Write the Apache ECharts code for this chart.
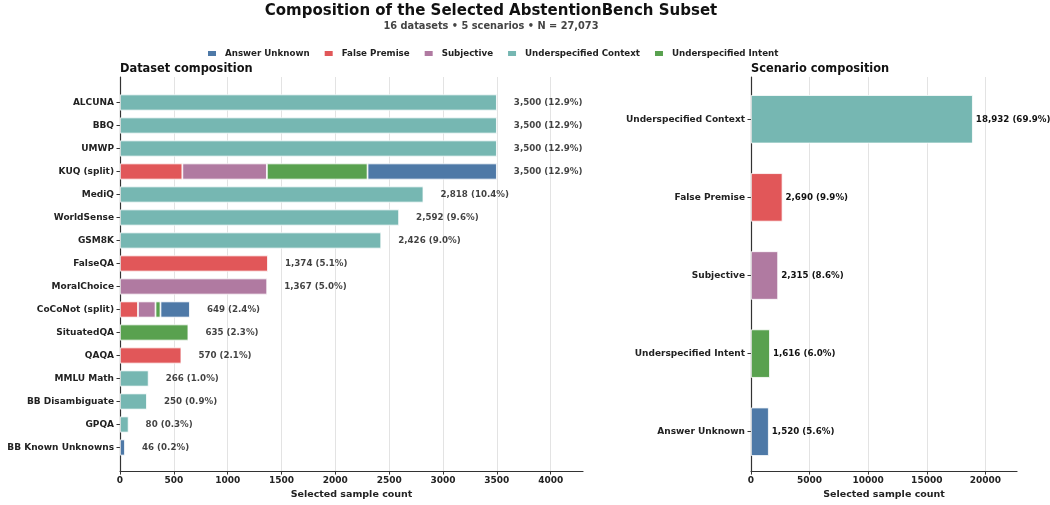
<!DOCTYPE html>
<html>
<head>
<meta charset="utf-8">
<script src="https://cdn.jsdelivr.net/npm/echarts@6/dist/echarts.min.js"></script>
<style>html,body{margin:0;padding:0;background:#fff}#c{width:1050px;height:505px}</style>
</head>
<body>
<div id="c"></div>
<script>
const datasets = ['ALCUNA','BBQ','UMWP','KUQ (split)','MediQ','WorldSense','GSM8K','FalseQA','MoralChoice','CoCoNot (split)','SituatedQA','QAQA','MMLU Math','BB Disambiguate','GPQA','BB Known Unknowns'];
const answerUnknown      = [null,null,null,1201,null,null,null,null,null,273,null,null,null,null,null,46];
const falsePremise       = [null,null,null,579,null,null,null,1374,null,167,null,570,null,null,null,null];
const subjective         = [null,null,null,785,null,null,null,null,1367,163,null,null,null,null,null,null];
const underspecIntent    = [null,null,null,935,null,null,null,null,null,46,635,null,null,null,null,null];
const underspecContext   = [3500,3500,3500,null,2818,2592,2426,null,null,null,null,null,266,250,80,null];
const scenarios = ['Underspecified Context','False Premise','Subjective','Underspecified Intent','Answer Unknown'];
const scenarioCounts = [18932,2690,2315,1616,1520];
const leftTicks = [0,500,1000,1500,2000,2500,3000,3500,4000];
const rightTicks = [0,5000,10000,15000,20000];
const N_TOTAL = 27073;

const COLORS = {
  'Answer Unknown':'#4e79a7','False Premise':'#e15759','Subjective':'#b07aa1',
  'Underspecified Context':'#76b7b2','Underspecified Intent':'#59a14f'
};
const FONT = 'DejaVu Sans';
const fmt = v => v.toLocaleString('en-US') + ' (' + (v / N_TOTAL * 100).toFixed(1) + '%)';
const totals = datasets.map((_, i) => [answerUnknown, falsePremise, subjective, underspecIntent, underspecContext]
  .reduce((s, a) => s + (a[i] || 0), 0));

const L = {left:120, right:467}, R = {left:751, right:33};
const LMAX = 4300, RMAX = 22700;

function frameX(gi, max, ticks) {
  return {
    gridIndex: gi, type:'value', min:0, max:max, interval: ticks[1]-ticks[0],
    axisLine:{show:true, lineStyle:{color:'#333', width:1.2}},
    axisTick:{show:true, length:3.5, lineStyle:{color:'#333', width:1}, customValues: ticks},
    axisLabel:{show:true, color:'#222', fontFamily:FONT, fontWeight:'bold', fontSize:9, margin:5,
      customValues: ticks, formatter: v => String(v)},
    splitLine:{show:true, lineStyle:{color:'#e3e3e3', width:1}},
    name:'Selected sample count', nameLocation:'middle', nameGap:17,
    nameTextStyle:{color:'#222', fontFamily:FONT, fontWeight:'bold', fontSize:9.5}
  };
}
function hiddenX(gi, max) {
  return {gridIndex:gi, type:'value', min:0, max:max, show:false, splitLine:{show:false}};
}
function frameY(gi) {
  return {gridIndex:gi, type:'value', min:0, max:1, axisLine:{show:true, lineStyle:{color:'#333', width:1.2}},
    axisTick:{show:false}, axisLabel:{show:false}, splitLine:{show:false}};
}
function catY(gi, cats) {
  return {gridIndex:gi, type:'category', data:cats, inverse:true,
    axisLine:{show:false},
    axisTick:{show:true, alignWithLabel:true, length:3.5, lineStyle:{color:'#333'}},
    axisLabel:{color:'#222', fontFamily:FONT, fontWeight:'bold', fontSize:9, margin:6},
    splitLine:{show:false}};
}

const stackDefs = [
  ['False Premise', falsePremise],
  ['Subjective', subjective],
  ['Underspecified Intent', underspecIntent],
  ['Answer Unknown', answerUnknown],
  ['Underspecified Context', underspecContext]
];
const series = stackDefs.map(([name, arr]) => ({
  name, type:'bar', xAxisIndex:1, yAxisIndex:1, stack:'ds', data:arr, barWidth:'70%',
  itemStyle:{color:COLORS[name], borderColor:'#fff', borderWidth:0.8}
}));
series.push({
  type:'scatter', xAxisIndex:1, yAxisIndex:1, data:totals, symbolSize:0.01, silent:true,
  label:{show:true, position:'right', distance:17, formatter:p => fmt(p.value),
    color:'#111', fontFamily:FONT, fontWeight:'bold', fontSize:8.7}
});
series.push({
  type:'bar', xAxisIndex:3, yAxisIndex:3, barWidth:'62%',
  data: scenarioCounts.map((v, i) => ({value:v, itemStyle:{color:COLORS[scenarios[i]]}})),
  itemStyle:{borderColor:'#fff', borderWidth:0.8},
  label:{show:true, position:'right', distance:3, formatter:p => fmt(p.value),
    color:'#111', fontFamily:FONT, fontWeight:'bold', fontSize:8.7}
});

const option = {
  animation:false,
  backgroundColor:'#fff',
  textStyle:{fontFamily:FONT},
  title:[
    {text:'Composition of the Selected AbstentionBench Subset', left:491, textAlign:'center', top:3.5, padding:0,
      textStyle:{fontFamily:FONT, fontWeight:'bold', fontSize:15, color:'#111'}},
    {text:'16 datasets • 5 scenarios • N = 27,073', left:491, textAlign:'center', top:21.5, padding:0,
      textStyle:{fontFamily:FONT, fontWeight:'bold', fontSize:9.8, color:'#444'}},
    {text:'Dataset composition', left:120, top:63.5, padding:0, textStyle:{fontFamily:FONT, fontWeight:'bold', fontSize:11.4, color:'#111'}},
    {text:'Scenario composition', left:751, top:63.5, padding:0, textStyle:{fontFamily:FONT, fontWeight:'bold', fontSize:11.4, color:'#111'}}
  ],
  legend:{
    data:['Answer Unknown','False Premise','Subjective','Underspecified Context','Underspecified Intent'],
    left:206, top:49, itemWidth:10, itemHeight:7, itemGap:13, padding:0,
    icon:'rect',
    textStyle:{fontFamily:FONT, fontWeight:'bold', fontSize:8.7, color:'#222', padding:[0,0,0,3]}
  },
  grid:[
    {left:L.left, right:L.right, top:77, bottom:31},
    {left:L.left, right:L.right, top:91, bottom:46},
    {left:R.left, right:R.right, top:77, bottom:31},
    {left:R.left, right:R.right, top:80.2, bottom:34.2}
  ],
  xAxis:[frameX(0, LMAX, leftTicks), hiddenX(1, LMAX), frameX(2, RMAX, rightTicks), hiddenX(3, RMAX)],
  yAxis:[frameY(0), catY(1, datasets), frameY(2), catY(3, scenarios)],
  series: series
};
const chart = echarts.init(document.getElementById('c'), null, {renderer:'canvas'});
chart.setOption(option);
</script>
</body>
</html>
